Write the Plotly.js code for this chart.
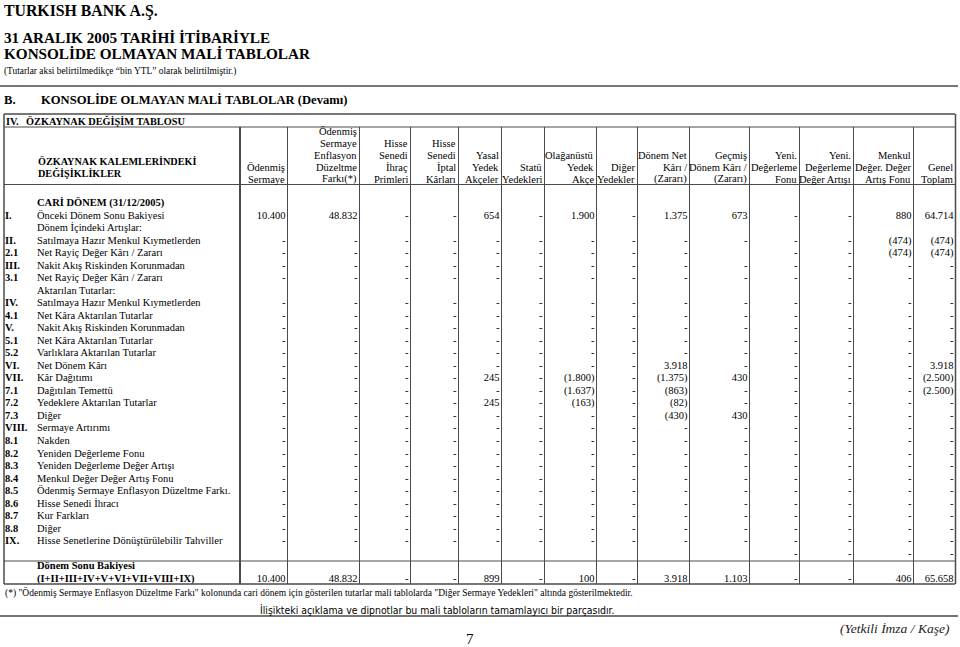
<!DOCTYPE html>
<html><head><meta charset="utf-8">
<script src="https://cdn.plot.ly/plotly-3.0.1.min.js"></script>
<style>html,body{margin:0;padding:0;background:#fff}</style>
</head><body><div id="chart" style="width:960px;height:647px"></div>
<script>
// ---------------- DATA ----------------
const _ = null; // empty cell ; 0 = "-"
const rowCodes = ['', 'I.', '', 'II.', '2.1', 'III.', '3.1', '', 'IV.', '4.1',
  'V.', '5.1', '5.2', 'VI.', 'VII.', '7.1', '7.2', '7.3', 'VIII.', '8.1',
  '8.2', '8.3', '8.4', '8.5', '8.6', '8.7', '8.8', 'IX.', '', '', ''];
const rowLabels = ['CARİ DÖNEM (31/12/2005)', 'Önceki Dönem Sonu Bakiyesi', 'Dönem İçindeki Artışlar:',
  'Satılmaya Hazır Menkul Kıymetlerden', 'Net Rayiç Değer Kârı / Zararı', 'Nakit Akış Riskinden Korunmadan',
  'Net Rayiç Değer Kârı / Zararı', 'Aktarılan Tutarlar:', 'Satılmaya Hazır Menkul Kıymetlerden',
  'Net Kâra Aktarılan Tutarlar', 'Nakit Akış Riskinden Korunmadan', 'Net Kâra Aktarılan Tutarlar',
  'Varlıklara Aktarılan Tutarlar', 'Net Dönem Kârı', 'Kâr Dağıtımı', 'Dağıtılan Temettü',
  'Yedeklere Aktarılan Tutarlar', 'Diğer', 'Sermaye Artırımı', 'Nakden', 'Yeniden Değerleme Fonu',
  'Yeniden Değerleme Değer Artışı', 'Menkul Değer Değer Artış Fonu', 'Ödenmiş Sermaye Enflasyon Düzeltme Farkı.',
  'Hisse Senedi İhracı', 'Kur Farkları', 'Diğer', 'Hisse Senetlerine Dönüştürülebilir Tahviller', '',
  'Dönem Sonu Bakiyesi', '(I+II+III+IV+V+VI+VII+VIII+IX)'];
const boldRows = [0, 29, 30];

const colHeaders = [
  ['Ödenmiş', 'Sermaye'],
  ['Ödenmiş', 'Sermaye', 'Enflasyon', 'Düzeltme', 'Farkı(*)'],
  ['Hisse', 'Senedi', 'İhraç', 'Primleri'],
  ['Hisse', 'Senedi', 'İptal', 'Kârları'],
  ['Yasal', 'Yedek', 'Akçeler'],
  ['Statü', 'Yedekleri'],
  ['Olağanüstü', 'Yedek', 'Akçe'],
  ['Diğer', 'Yedekler'],
  ['Dönem Net', 'Kârı /', '(Zararı)'],
  ['Geçmiş', 'Dönem Kârı /', '(Zararı)'],
  ['Yeni.', 'Değerleme', 'Fonu'],
  ['Yeni.', 'Değerleme', 'Değer Artışı'],
  ['Menkul', 'Değer. Değer', 'Artış Fonu'],
  ['Genel', 'Toplam']
];

const odenmisSermaye = [_, 10400, _, 0, 0, 0, 0, _,
  0, 0, 0, 0, 0,   0, 0, 0, 0, 0,   0, 0, 0, 0, 0,   0, 0, 0, 0, 0,   _, _, 10400];
const enflasyonFarki = [_, 48832, _, 0, 0, 0, 0, _,
  0, 0, 0, 0, 0,   0, 0, 0, 0, 0,   0, 0, 0, 0, 0,   0, 0, 0, 0, 0,   _, _, 48832];
const ihracPrimleri = [_, 0, _, 0, 0, 0, 0, _,
  0, 0, 0, 0, 0,   0, 0, 0, 0, 0,   0, 0, 0, 0, 0,   0, 0, 0, 0, 0,   _, _, 0];
const iptalKarlari = [_, 0, _, 0, 0, 0, 0, _,
  0, 0, 0, 0, 0,   0, 0, 0, 0, 0,   0, 0, 0, 0, 0,   0, 0, 0, 0, 0,   _, _, 0];
const yasalYedek = [_, 654, _, 0, 0, 0, 0, _,
  0, 0, 0, 0, 0,   0, 245, 0, 245, 0,   0, 0, 0, 0, 0,   0, 0, 0, 0, 0,   _, _, 899];
const statuYedek = [_, 0, _, 0, 0, 0, 0, _,
  0, 0, 0, 0, 0,   0, 0, 0, 0, 0,   0, 0, 0, 0, 0,   0, 0, 0, 0, 0,   _, _, 0];
const olaganustuYedek = [_, 1900, _, 0, 0, 0, 0, _,
  0, 0, 0, 0, 0,   0, -1800, -1637, -163, 0,   0, 0, 0, 0, 0,   0, 0, 0, 0, 0,   _, _, 100];
const digerYedek = [_, 0, _, 0, 0, 0, 0, _,
  0, 0, 0, 0, 0,   0, 0, 0, 0, 0,   0, 0, 0, 0, 0,   0, 0, 0, 0, 0,   _, _, 0];
const donemNetKar = [_, 1375, _, 0, 0, 0, 0, _,
  0, 0, 0, 0, 0,   3918, -1375, -863, -82, -430,   0, 0, 0, 0, 0,   0, 0, 0, 0, 0,   _, _, 3918];
const gecmisDonemKar = [_, 673, _, 0, _, 0, 0, _,
  0, 0, 0, 0, 0,   0, 430, 0, 0, 430,   0, 0, 0, 0, 0,   0, 0, 0, 0, 0,   _, _, 1103];
const yeniDegFonu = [_, 0, _, 0, 0, 0, 0, _,
  0, 0, 0, 0, 0,   0, 0, 0, 0, 0,   0, 0, 0, 0, 0,   0, 0, 0, 0, 0,   0, _, 0];
const yeniDegArtisi = [_, 0, _, 0, 0, 0, 0, _,
  0, 0, 0, 0, 0,   0, 0, 0, 0, 0,   0, 0, 0, 0, 0,   0, 0, 0, 0, 0,   0, _, 0];
const menkulDegerFonu = [_, 880, _, -474, -474, 0, 0, _,
  0, 0, 0, 0, 0,   0, 0, 0, 0, 0,   0, 0, 0, 0, 0,   0, 0, 0, 0, 0,   0, _, 406];
const genelToplam = [_, 64714, _, -474, -474, 0, 0, _,
  0, 0, 0, 0, 0,   3918, -2500, -2500, 0, 0,   0, 0, 0, 0, 0,   0, 0, 0, 0, 0,   0, _, 65658];

const columns = [odenmisSermaye, enflasyonFarki, ihracPrimleri, iptalKarlari, yasalYedek, statuYedek,
  olaganustuYedek, digerYedek, donemNetKar, gecmisDonemKar, yeniDegFonu, yeniDegArtisi, menkulDegerFonu, genelToplam];

// ---------------- LAYOUT GEOMETRY ----------------
const W = 960, H = 647;
const COL_EDGES = [287, 359, 410, 458, 501, 544, 596, 637, 689, 749, 799, 853, 913, 955];
const LABEL_EDGE = 240, T_LEFT = 4, T_RIGHT = 955;
const Y_TOP = 114, Y_TITLE = 127, Y_HEAD = 184.5, Y_SUM = 561, Y_BOT = 584;
const ROW0 = 203.5, STEP = 12.52;
const HEAD_LAST = 179, HEAD_STEP = 12;
const SERIF = 'Liberation Serif, Times New Roman, serif';
const NARROW = 'Liberation Sans Narrow, DejaVu Sans Condensed, Arial Narrow, sans-serif';
const LINE = '#4a4a4a';

function fmt(v) {
  if (v === null) return '';
  if (v === 0) return '-';
  const s = String(Math.abs(v)).replace(/\B(?=(\d{3})+(?!\d))/g, '.');
  return v < 0 ? '(' + s + ')' : s;
}
const rowIdx = rowLabels.map((d, i) => i);

const traces = [];
// row codes
traces.push({
  type: 'scatter', mode: 'text', xaxis: 'x', yaxis: 'y2',
  x: rowIdx.map(() => 5), y: rowIdx, text: rowCodes.map(c => c ? '<b>' + c + '</b>' : ''),
  textposition: 'middle right', textfont: {family: SERIF, size: 10.5, color: '#000'},
  hoverinfo: 'skip', showlegend: false, cliponaxis: false
});
// row labels
traces.push({
  type: 'scatter', mode: 'text', xaxis: 'x', yaxis: 'y2',
  x: rowIdx.map(() => 37), y: rowIdx,
  text: rowLabels.map((l, i) => boldRows.includes(i) && l ? '<b>' + l + '</b>' : l),
  textposition: 'middle right', textfont: {family: SERIF, size: 10.5, color: '#000'},
  hoverinfo: 'skip', showlegend: false, cliponaxis: false
});
// value columns
columns.forEach((col, j) => {
  traces.push({
    type: 'scatter', mode: 'text', xaxis: 'x', yaxis: 'y2',
    x: col.map(() => COL_EDGES[j] - 1.5), y: rowIdx, text: col.map(fmt),
    textposition: 'middle left', textfont: {family: SERIF, size: 10.5, color: '#000'},
    hoverinfo: 'skip', showlegend: false, cliponaxis: false
  });
});

// ---------------- SHAPES ----------------
const shapes = [];
function hline(y, x0, x1, w) { shapes.push({type: 'line', xref: 'x', yref: 'y', x0: x0, x1: x1, y0: y, y1: y, line: {color: LINE, width: w || 1}}); }
function vline(x, y0, y1, w) { shapes.push({type: 'line', xref: 'x', yref: 'y', x0: x, x1: x, y0: y0, y1: y1, line: {color: LINE, width: w || 1}}); }
hline(86, 0, 958, 1.5);
hline(Y_TOP, T_LEFT, T_RIGHT, 1.5);
hline(Y_TITLE, T_LEFT, T_RIGHT, 1);
hline(Y_HEAD, T_LEFT, T_RIGHT, 1);
hline(Y_SUM, T_LEFT, T_RIGHT, 1);
hline(Y_BOT, T_LEFT, T_RIGHT, 1.5);
vline(T_LEFT, Y_TOP, Y_BOT, 1.5);
vline(LABEL_EDGE, Y_TITLE, Y_BOT, 2);
COL_EDGES.forEach((e, j) => vline(e + 0.5, j === COL_EDGES.length - 1 ? Y_TOP : Y_TITLE, Y_BOT, j === COL_EDGES.length - 1 ? 1.5 : 1));
hline(616, 0, 958, 1.5);

// ---------------- ANNOTATIONS ----------------
const ann = [];
function txt(t, x, y, size, opts) {
  ann.push(Object.assign({text: t, x: x, y: y, xref: 'x', yref: 'y', showarrow: false, xanchor: 'left', yanchor: 'middle',
    borderpad: 0, font: {family: SERIF, size: size, color: '#000'}}, opts || {}));
}
txt('<b>TURKISH BANK A.Ş.</b>', 3, 11, 15.8);
txt('<b>31 ARALIK 2005 TARİHİ İTİBARİYLE</b>', 3, 37, 15.2);
txt('<b>KONSOLİDE OLMAYAN MALİ TABLOLAR</b>', 3, 53, 15.2);
txt('(Tutarlar aksi belirtilmedikçe “bin YTL” olarak belirtilmiştir.)', 3, 71, 9.4);
txt('<b>B.</b>', 3, 100, 12.6);
txt('<b>KONSOLİDE OLMAYAN MALİ TABLOLAR (Devamı)</b>', 40, 100, 12.6);
txt('<b>IV.</b>', 5, 121, 10.3);
txt('<b>ÖZKAYNAK DEĞİŞİM TABLOSU</b>', 25, 121, 10.3);
txt('<b>ÖZKAYNAK KALEMLERİNDEKİ</b>', 37, 161, 10.2);
txt('<b>DEĞİŞİKLİKLER</b>', 37, 173, 10.2);
colHeaders.forEach((lines, j) => {
  lines.forEach((ln, k) => {
    txt(ln, COL_EDGES[j] - 1, HEAD_LAST - (lines.length - 1 - k) * HEAD_STEP, 10.5, {xanchor: 'right'});
  });
});
txt('(*) "Ödenmiş Sermaye Enflasyon Düzeltme Farkı" kolonunda cari dönem için gösterilen tutarlar mali tablolarda "Diğer Sermaye Yedekleri" altında gösterilmektedir.', 4, 593, 9.5);
txt('İlişikteki açıklama ve dipnotlar bu mali tabloların tamamlayıcı bir parçasıdır.', 437, 610, 10.4,
  {xanchor: 'center', font: {family: NARROW, size: 10.4, color: '#000'}});
txt('(Yetkili İmza / Kaşe)', 951, 628, 13.5,
  {xanchor: 'right', font: {family: SERIF, size: 13.5, color: '#222', style: 'italic', weight: 'normal'}});
txt('7', 470, 639, 15, {xanchor: 'center'});

// ---------------- PLOT ----------------
const layout = {
  width: W, height: H, margin: {l: 0, r: 0, t: 0, b: 0},
  paper_bgcolor: '#fff', plot_bgcolor: '#fff', showlegend: false,
  xaxis: {range: [0, W], visible: false, fixedrange: true},
  yaxis: {range: [H, 0], visible: false, fixedrange: true},
  yaxis2: {range: [(H - ROW0) / STEP, -ROW0 / STEP], overlaying: 'y', visible: false, fixedrange: true},
  shapes: shapes, annotations: ann
};
Plotly.newPlot('chart', traces, layout, {staticPlot: true, displayModeBar: false});
</script>
</body></html>
